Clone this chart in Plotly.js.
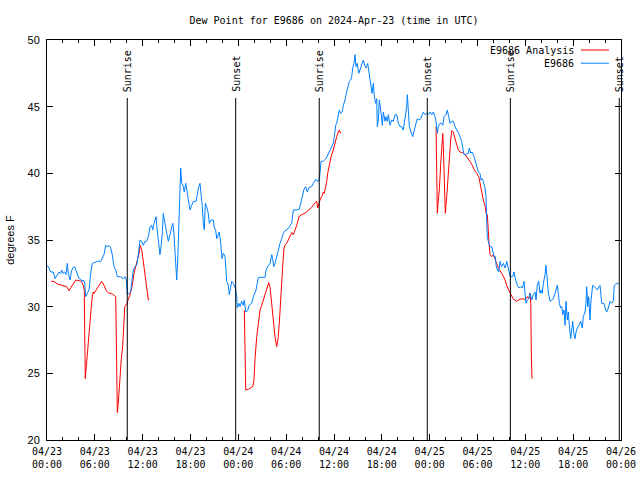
<!DOCTYPE html>
<html>
<head>
<meta charset="utf-8">
<script src="https://cdn.plot.ly/plotly-3.0.1.min.js"></script>
<style>html,body{margin:0;padding:0;background:#fff;}#chart{width:640px;height:480px;}</style>
</head>
<body>
<div id="chart"></div>
<script>
// Hours after 2024-04-23 00:00 UTC and dew point (deg F)
const hoursObs = [0,0.25,0.46,0.79,1.00,1.29,1.51,1.72,1.84,2.01,2.22,2.38,2.55,2.67,2.89,3.05,3.22,3.47,3.60,3.80,4.01,4.23,4.39,4.55,4.73,4.85,5.06,5.27,5.48,5.68,5.90,6.31,6.74,6.94,7.15,7.36,7.56,7.78,7.99,8.19,8.40,8.62,8.82,9.24,9.57,9.78,9.95,10.07,10.29,10.50,10.62,10.83,11.04,11.25,11.45,11.67,11.88,12.08,12.29,12.51,12.71,12.92,13.13,13.26,13.42,13.55,13.67,13.76,13.96,14.09,14.17,14.30,14.46,14.59,14.71,14.89,15.02,15.22,15.43,15.64,15.77,15.89,16.06,16.18,16.27,16.40,16.56,16.68,16.77,16.90,17.10,17.22,17.40,17.60,17.81,17.94,18.15,18.35,18.69,18.85,19.03,19.19,19.32,19.48,19.61,19.73,19.86,20.03,20.23,20.36,20.57,20.86,20.99,21.16,21.29,21.49,21.61,21.79,21.95,22.12,22.33,22.54,22.74,22.87,23.04,23.17,23.37,23.46,23.62,23.80,23.87,24.08,24.21,24.42,24.62,24.75,24.93,25.18,25.34,25.68,25.88,26.22,26.51,26.93,27.35,27.47,27.76,27.97,28.19,28.31,28.44,28.60,28.81,29.01,29.23,29.44,29.64,29.85,30.07,30.27,30.48,30.70,30.90,31.32,31.65,31.82,32.08,32.24,32.45,32.65,32.90,33.20,33.40,33.62,33.74,33.91,34.12,34.25,34.37,34.66,34.91,35.16,35.41,35.71,35.91,36.04,36.21,36.34,36.54,36.67,36.84,37.04,37.17,37.38,37.59,37.80,37.92,38.10,38.22,38.35,38.51,38.64,38.76,38.92,39.10,39.26,39.48,39.68,39.85,40.02,40.23,40.39,40.52,40.64,40.77,40.93,41.06,41.23,41.36,41.43,41.56,41.68,41.81,41.93,42.06,42.19,42.40,42.52,42.69,42.81,43.03,43.24,43.44,43.65,43.87,44.07,44.28,44.49,44.69,44.91,45.12,45.20,45.32,45.45,45.66,45.87,46.07,46.25,46.45,46.66,46.88,47.08,47.20,47.42,47.63,47.83,48.04,48.26,48.46,48.67,48.80,48.96,49.08,49.30,49.51,49.64,49.80,50.05,50.21,50.39,50.55,50.77,50.97,51.18,51.39,51.59,51.72,51.89,52.02,52.15,52.31,52.44,52.65,52.85,52.97,53.15,53.31,53.48,53.69,53.90,54.10,54.32,54.44,54.57,54.73,54.94,55.07,55.16,55.23,55.41,55.58,55.79,55.91,56.08,56.24,56.33,56.49,56.67,56.83,57.00,57.25,57.46,57.67,57.87,58.09,58.42,58.58,58.79,58.99,59.21,59.42,59.62,59.84,59.96,60.09,60.25,60.43,60.59,60.80,61.00,61.22,61.34,61.50,61.68,61.84,61.97,62.13,62.26,62.47,62.59,62.72,62.88,63.10,63.31,63.51,63.72,63.94,64.01,64.14,64.26,64.44,64.56,64.69,64.85,64.98,65.10,65.27,65.39,65.52,65.69,65.82,65.94,66.11,66.23,66.36,66.52,66.73,66.95,67.15,67.27,67.49,67.61,67.70,67.83,67.95,68.11,68.24,68.45,68.74,69.03,69.24,69.37,69.58,69.87,70.08,70.21,70.41,70.62,70.83,71.04,71.16,71.47,71.72];
const dewObs = [33.1,32.9,32.6,32.6,32.1,32.4,32.6,32.5,32.75,32.5,32.6,32.4,33.25,32.5,32.0,32.6,32.9,33.0,32.75,32.4,32.1,32.05,31.9,32.0,31.75,30.75,31.0,31.25,32.5,33.25,33.3,33.4,33.4,33.6,33.9,34.6,34.5,34.6,34.4,33.9,33.0,32.75,32.25,32.25,32.1,32.25,32.0,30.9,31.0,31.1,31.75,32.75,33.0,33.1,33.9,35.0,34.9,34.6,34.9,34.9,35.25,36.0,36.1,35.75,36.25,36.5,36.75,36.1,35.0,34.25,33.9,34.5,35.5,37.0,36.5,36.0,35.5,34.9,35.4,35.75,36.25,35.75,34.25,32.75,32.0,33.5,36.5,39.5,40.4,39.25,39.0,38.6,39.25,38.5,37.5,37.25,37.6,37.9,37.9,38.5,39.0,39.25,38.5,37.5,36.25,35.75,37.75,37.5,37.0,36.25,36.5,36.5,35.9,35.75,35.1,35.4,35.6,34.75,33.6,34.0,33.75,31.9,31.6,30.9,31.4,31.9,31.75,31.6,31.4,30.75,29.9,30.25,30.0,30.4,30.1,30.5,29.6,29.7,30.1,30.25,30.75,31.25,32.2,32.2,32.2,32.75,33.1,33.2,33.9,33.6,33.0,33.25,33.75,34.4,34.75,35.1,35.5,35.7,35.75,35.9,36.05,36.3,37.25,37.25,37.3,37.75,38.4,38.8,39.0,38.6,38.95,39.0,39.25,39.4,39.55,39.4,39.45,40.0,40.9,40.9,41.05,41.3,41.6,42.0,42.25,42.75,43.6,43.75,44.5,44.75,44.5,44.6,45.1,45.5,46.1,46.6,46.9,47.0,47.25,47.9,48.25,48.9,48.0,48.25,47.5,47.75,48.25,48.5,48.1,47.9,48.25,47.5,47.1,46.5,46.0,46.75,45.75,45.25,45.6,43.5,44.0,45.5,44.6,44.4,43.6,44.6,43.9,44.25,43.9,44.4,43.6,44.0,43.9,44.4,44.4,43.75,43.5,43.5,43.25,44.25,45.0,45.9,45.0,43.5,43.1,42.75,43.25,43.6,44.1,44.0,44.1,44.4,44.6,44.4,44.5,44.4,44.6,44.4,44.6,44.25,43.9,43.0,43.5,43.75,43.75,43.6,44.25,44.4,44.75,44.25,43.75,43.9,43.9,43.5,43.25,43.1,42.9,42.6,42.4,41.9,41.4,41.4,41.45,41.5,41.9,41.5,41.6,41.4,41.0,40.6,40.1,40.0,39.5,39.6,39.4,38.9,38.25,36.25,35.25,34.75,34.5,34.5,34.1,33.75,33.75,33.1,32.75,32.6,33.4,33.0,33.25,32.9,33.4,32.75,32.25,32.25,32.6,32.0,31.6,31.4,31.5,31.4,31.9,31.0,30.25,30.5,30.6,31.0,30.5,30.9,31.1,30.5,31.6,31.9,31.0,31.25,31.0,31.75,32.4,33.1,32.1,31.1,30.4,30.5,30.6,31.0,31.5,31.6,31.0,30.25,29.9,30.0,29.4,29.75,28.6,30.4,29.0,29.6,28.6,27.6,28.25,28.9,27.9,27.6,28.1,28.4,28.6,28.9,28.4,29.25,29.6,30.25,31.5,30.0,30.75,29.0,30.5,31.6,31.45,31.25,31.5,31.6,30.25,30.25,29.75,29.6,29.9,30.4,30.25,30.4,31.6,31.75,31.7];

const hoursAna = [0.54,0.88,1.29,1.92,2.47,2.76,2.97,3.39,3.60,4.01,4.30,4.55,4.68,4.73,4.80,4.93,5.11,5.27,5.39,5.52,5.68,5.81,5.90,6.31,6.86,7.15,7.40,7.65,8.19,8.62,8.74,8.82,8.94,9.03,9.16,9.32,9.50,9.57,9.75,10.00,10.20,10.41,10.70,10.91,11.13,11.33,11.54,11.70,11.88,12.00,12.17,12.29,12.51,12.71,12.83,
  18.0,
  24.75,24.84,24.93,25.25,25.55,25.80,25.97,26.09,26.31,26.51,26.72,26.93,27.13,27.35,27.56,27.81,27.97,28.19,28.39,28.60,28.81,29.01,29.14,29.32,29.57,29.73,29.85,30.07,30.27,30.48,30.70,30.90,31.11,31.32,31.61,31.95,32.36,32.78,33.20,33.62,33.83,33.96,34.12,34.25,34.46,34.66,34.78,34.96,35.09,35.21,35.41,35.63,35.91,36.13,36.34,36.54,36.67,36.84,
  42.0,
  48.80,48.84,48.89,48.96,49.08,49.21,49.39,49.55,49.64,49.71,49.84,49.96,50.14,50.30,50.47,50.64,50.77,50.97,51.18,51.39,51.59,51.81,52.15,52.44,52.73,53.06,53.35,53.60,53.90,54.19,54.32,54.44,54.61,54.73,54.94,55.07,55.23,55.32,55.45,55.58,55.79,55.99,56.21,56.42,56.62,57.04,57.46,57.71,58.05,58.46,58.89,59.33,59.71,59.96,60.25,60.43,60.59,60.68,60.76,60.84];
const dewAna = [31.9,31.9,31.7,31.6,31.5,31.2,31.4,31.75,32.0,31.95,31.9,31.6,31.25,28.0,24.6,25.5,27.0,28.0,29.0,29.75,30.75,31.1,31.0,31.4,31.9,31.6,31.25,31.05,30.95,30.75,26.4,22.05,22.75,23.75,24.9,26.1,27.1,28.25,30.0,30.2,30.5,30.9,31.6,32.5,33.0,33.4,34.0,34.6,34.25,33.75,33.0,32.5,31.25,30.5,30.55,
  null,
  29.75,26.8,23.75,23.8,23.9,24.0,24.5,26.1,27.75,28.9,29.75,30.1,30.5,31.0,31.4,31.8,31.5,30.1,28.75,27.75,27.0,27.75,28.75,31.0,33.1,34.4,34.6,34.75,35.0,35.2,35.55,35.4,35.75,36.1,36.75,36.9,37.0,37.2,37.45,37.8,37.9,37.4,37.75,38.0,38.25,38.6,38.5,38.9,39.4,40.0,40.6,41.25,41.75,42.4,42.75,43.1,43.25,43.0,
  null,
  43.5,41.75,38.6,37.0,38.0,38.75,40.75,42.0,43.0,42.1,39.0,37.0,38.25,39.75,41.0,42.5,43.2,43.1,42.6,42.1,41.75,41.6,41.55,41.4,41.2,40.9,40.6,40.25,40.0,39.7,39.25,38.9,38.25,38.0,37.6,37.0,36.9,35.6,34.75,33.9,33.75,33.9,33.5,33.1,32.9,32.5,32.0,31.5,31.1,30.6,30.4,30.55,30.6,30.5,30.75,30.6,31.0,30.25,26.25,24.6];

const sunriseHours = [10.07, 34.15, 58.12];
const sunsetHours = [23.67, 47.70, 71.78];
const seriesNames = ['E9686 Analysis', 'E9686'];
const seriesColors = ['#ff0000', '#0080ff'];

const base = Date.UTC(2024, 3, 23, 0, 0, 0);
function toDate(h) {
  if (h === null) return null;
  return new Date(base + Math.round(h * 3600) * 1000).toISOString().slice(0, 19).replace('T', ' ');
}

const mono = 'DejaVu Sans Mono, monospace';
const sans = 'Liberation Sans, Arial, sans-serif';

const traces = [
  {x: hoursAna.map(toDate), y: dewAna, name: seriesNames[0], type: 'scatter', mode: 'lines',
   line: {color: seriesColors[0], width: 1}, connectgaps: false, showlegend: false},
  {x: hoursObs.map(toDate), y: dewObs, name: seriesNames[1], type: 'scatter', mode: 'lines',
   line: {color: seriesColors[1], width: 1}, showlegend: false}
];

const shapes = [];
const annotations = [];
function addEvent(h, label) {
  shapes.push({type: 'line', xref: 'x', yref: 'paper', x0: toDate(h), x1: toDate(h), y0: 0, y1: 0.855,
               line: {color: '#000', width: 1}});
  annotations.push({xref: 'x', yref: 'paper', x: toDate(h), y: 0.865, xanchor: 'center', yanchor: 'bottom',
                    text: label, textangle: -90, showarrow: false, font: {family: mono, size: 10, color: '#000'}});
}
sunriseHours.forEach(h => addEvent(h, 'Sunrise'));
sunsetHours.forEach(h => addEvent(h, 'Sunset'));

// legend (text then line sample, gnuplot style)
const legY = [0.975, 0.942];
seriesNames.forEach((n, i) => {
  annotations.push({xref: 'paper', yref: 'paper', x: 0.922, y: legY[i], xanchor: 'right', yanchor: 'middle',
                    text: n, showarrow: false, font: {family: mono, size: 10, color: '#000'}});
  shapes.push({type: 'line', xref: 'paper', yref: 'paper', x0: 0.930, x1: 0.979, y0: legY[i], y1: legY[i],
               line: {color: seriesColors[i], width: 1}});
});

const layout = {
  width: 640, height: 480,
  margin: {l: 47, r: 19, t: 40, b: 40},
  paper_bgcolor: '#fff', plot_bgcolor: '#fff',
  title: {text: 'Dew Point for E9686 on 2024-Apr-23 (time in UTC)', x: 0.5, xref: 'paper', y: 0.958, yanchor: 'middle',
          font: {family: mono, size: 10, color: '#000'}},
  xaxis: {
    type: 'date', range: [toDate(0), toDate(72)], tick0: toDate(0), dtick: 6 * 3600000,
    tickformat: '%m/%d<br>%H:%M', ticks: 'inside', ticklen: 6, tickcolor: '#000',
    minor: {dtick: 2 * 3600000, ticks: 'inside', ticklen: 3, tickcolor: '#000', showgrid: false},
    showline: true, linecolor: '#000', linewidth: 1, mirror: 'ticks', showgrid: false, zeroline: false,
    tickfont: {family: mono, size: 10, color: '#000'}, ticklabelstandoff: 2
  },
  yaxis: {
    range: [20, 50], dtick: 5, ticks: 'inside', ticklen: 6, tickcolor: '#000',
    showline: true, linecolor: '#000', linewidth: 1, mirror: 'ticks', showgrid: false, zeroline: false,
    tickfont: {family: sans, size: 11, color: '#000'}, ticklabelstandoff: 4,
    title: {text: 'degrees F', font: {family: sans, size: 11, color: '#000'}, standoff: 10}
  },
  shapes: shapes, annotations: annotations, showlegend: false
};

Plotly.newPlot('chart', traces, layout, {staticPlot: true});
</script>
</body>
</html>
